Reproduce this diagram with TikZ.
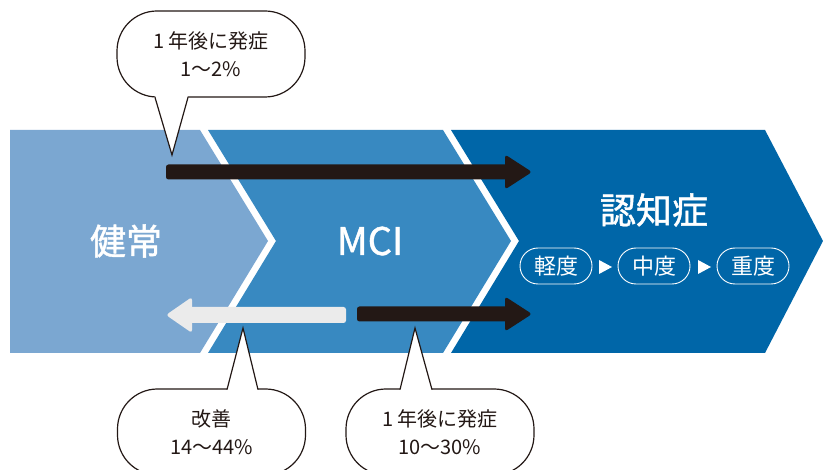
\documentclass[tikz,border=0pt]{standalone}
\usepackage{fontspec}
\setmainfont{Noto Sans CJK JP}
\newfontfamily\jpmed[FakeBold=1.2]{Noto Sans CJK JP}
\usetikzlibrary{calc}
\definecolor{cHealth}{HTML}{7BA7D1}
\definecolor{cMCI}{HTML}{3889C1}
\definecolor{cDem}{HTML}{0066A8}
\definecolor{cInk}{HTML}{231815}
\definecolor{cGrey}{HTML}{EBEBEB}
\tikzset{
  bigtxt/.style={text=white, font=\fontsize{36}{36}\jpmed, inner sep=0pt},
  pill/.style={draw=white, line width=0.9pt, rounded corners=18pt, minimum width=72pt, minimum height=36pt, inner sep=0pt, text=white, font=\fontsize{22}{22}\selectfont},
  bubble/.style={draw=cInk, fill=white, line width=1.2pt, rounded corners=40pt, minimum width=188pt, minimum height=86pt, inner sep=0pt, align=center, text=cInk, font=\fontsize{20}{28}\selectfont},
  tailline/.style={draw=cInk, line width=1.2pt, line join=miter},
}
\begin{document}
\begin{tikzpicture}[x=1pt,y=-1pt]
\clip (0,0) rectangle (823,470);
\fill[white] (0,0) rectangle (823,470);
% chevrons
\fill[cHealth] (10,130) -- (200,130) -- (268,241) -- (200,353) -- (10,353) -- cycle;
\fill[cMCI] (208,130) -- (443,130) -- (511,241) -- (443,353) -- (208,353) -- (276,241) -- cycle;
\fill[cDem] (451,130) -- (765,130) -- (823,241) -- (765,353) -- (451,353) -- (519,241) -- cycle;
% labels
\node[bigtxt] (health) at (126,241) {健常};
\node[bigtxt, font=\fontsize{38}{38}\jpmed] (mci) at (370,241) {MCI};
\node[bigtxt] (dem) at (654,210) {認知症};
\node[pill] (p1) at (556,266) {軽度};
\node[pill] (p2) at (654,266) {中度};
\node[pill] (p3) at (753,266) {重度};
\coordinate (t1) at (605.5,267);
\coordinate (t2) at (704.5,267);
\fill[white] (t1) ++(-6.5,-7) -- ++(13,7) -- ++(-13,7) -- cycle;
\fill[white] (t2) ++(-6.5,-7) -- ++(13,7) -- ++(-13,7) -- cycle;
% arrows
\coordinate (a1s) at (166,172);
\coordinate (a1e) at (532,172);
\coordinate (a2s) at (357,314);
\coordinate (a2e) at (532,314);
\coordinate (a3s) at (346,315);
\coordinate (a3e) at (166,315);
\fill[cInk, rounded corners=2.5pt] ($(a1s)+(0,-7.5)$) rectangle ($(a1e)+(-20,7.5)$);
\fill[cInk, rounded corners=3pt] (a1e) -- ++(-27,-17.5) -- ++(0,35) -- cycle;
\fill[cInk, rounded corners=2.5pt] ($(a2s)+(0,-7.5)$) rectangle ($(a2e)+(-20,7.5)$);
\fill[cInk, rounded corners=3pt] (a2e) -- ++(-27,-17.5) -- ++(0,35) -- cycle;
\fill[cGrey, rounded corners=2.5pt] ($(a3e)+(20,-8)$) rectangle ($(a3s)+(0,8)$);
\fill[cGrey, rounded corners=3pt] (a3e) -- ++(26,-18) -- ++(0,36) -- cycle;
% bubbles
\node[bubble] (b1) at (211,54) {1\hspace{3pt}年後に発症\\1〜2\%};
\coordinate (b1tip) at (172,155);
\fill[white] (155,95) -- (b1tip) -- (188,95) -- cycle;
\draw[tailline] (155,97.4) -- (b1tip) -- (188,97.4);

\node[bubble] (b2) at (211.5,432) {改善\\14〜44\%};
\coordinate (b2tip) at (243,328);
\fill[white] (227,391) -- (b2tip) -- (258,391) -- cycle;
\draw[tailline] (227,389.6) -- (b2tip) -- (258,389.6);

\node[bubble] (b3) at (440,432) {1\hspace{3pt}年後に発症\\10〜30\%};
\coordinate (b3tip) at (415,328);
\fill[white] (400,391) -- (b3tip) -- (432,391) -- cycle;
\draw[tailline] (400,389.6) -- (b3tip) -- (432,389.6);
\end{tikzpicture}
\end{document}
